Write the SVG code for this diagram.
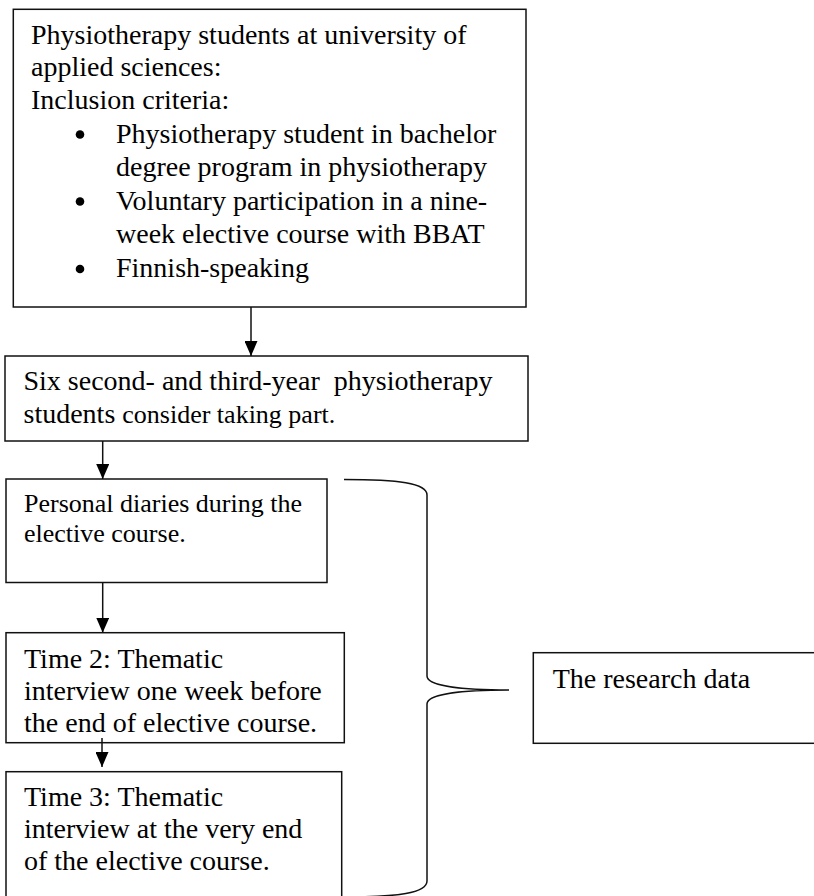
<svg xmlns="http://www.w3.org/2000/svg" width="814" height="896" viewBox="0 0 814 896">
<style>
.box{fill:#fff;stroke:#111;stroke-width:1.5}
.t{font-family:"Liberation Serif","Times New Roman",serif;font-size:28px;fill:#000}
.s{font-size:26px}
.conn{fill:none;stroke:#111;stroke-width:1.5}
</style>
<defs>
<marker id="ah" viewBox="0 0 15 13" refX="15" refY="6.5" markerWidth="15" markerHeight="13" markerUnits="userSpaceOnUse" orient="auto">
<path d="M0,0 L15,6.5 L0,13 Z" fill="#000"/>
</marker>
</defs>
<rect width="814" height="896" fill="#fff"/>
<g id="n1">
<rect class="box" x="13.3" y="9.3" width="512.7" height="297.7"/>
<text class="t" x="31" y="43.5">Physiotherapy students at university of</text>
<text class="t" x="31" y="76">applied sciences:</text>
<text class="t" x="31" y="108.5">Inclusion criteria:</text>
<circle cx="80" cy="134.5" r="4.3" fill="#000"/>
<circle cx="80" cy="201.5" r="4.3" fill="#000"/>
<circle cx="80" cy="269" r="4.3" fill="#000"/>
<text class="t" x="116" y="143">Physiotherapy student in bachelor</text>
<text class="t" x="116" y="175.5">degree program in physiotherapy</text>
<text class="t" x="116" y="210">Voluntary participation in a nine-</text>
<text class="t" x="116" y="242.5">week elective course with BBAT</text>
<text class="t" x="116" y="277">Finnish-speaking</text>
</g>
<g id="n2">
<rect class="box" x="5" y="356" width="523" height="85"/>
<text class="t" x="23.5" y="390">Six second- and third-year&#160; physiotherapy</text>
<text class="t" x="23.5" y="423">students <tspan class="s">consider taking part.</tspan></text>
</g>
<g id="n3">
<rect class="box" x="6" y="479" width="321" height="103.5"/>
<text class="t s" x="24" y="511.5">Personal diaries during the</text>
<text class="t s" x="24" y="541.5">elective course.</text>
</g>
<g id="n4">
<rect class="box" x="6" y="632.7" width="338.3" height="110"/>
<text class="t" x="24" y="668">Time 2: Thematic</text>
<text class="t" x="24" y="699.5">interview one week before</text>
<text class="t" x="24" y="731.5">the end of elective course.</text>
</g>
<g id="n5">
<rect class="box" x="6" y="771.7" width="335.7" height="140"/>
<text class="t" x="24" y="806">Time 3: Thematic</text>
<text class="t" x="24" y="838.3">interview at the very end</text>
<text class="t" x="24" y="870">of the elective course.</text>
</g>
<g id="n6">
<rect class="box" x="533.3" y="652.7" width="290" height="90.6"/>
<text class="t" x="552.7" y="688.3">The research data</text>
</g>
<g id="connectors">
<line class="conn" x1="251" y1="307" x2="251" y2="356" marker-end="url(#ah)"/>
<line class="conn" x1="102.7" y1="441" x2="102.7" y2="479" marker-end="url(#ah)"/>
<line class="conn" x1="102.7" y1="582.5" x2="102.7" y2="632.7" marker-end="url(#ah)"/>
<line class="conn" x1="102" y1="738" x2="102" y2="767" marker-end="url(#ah)"/>
<path class="conn" d="M344,479.5 C398,479.5 427,483 427,495 L427,676 C427,686 462,690 509,690 C462,690 427,694 427,704 L427,881 C427,893 398,897 344,897"/>
</g>
</svg>
